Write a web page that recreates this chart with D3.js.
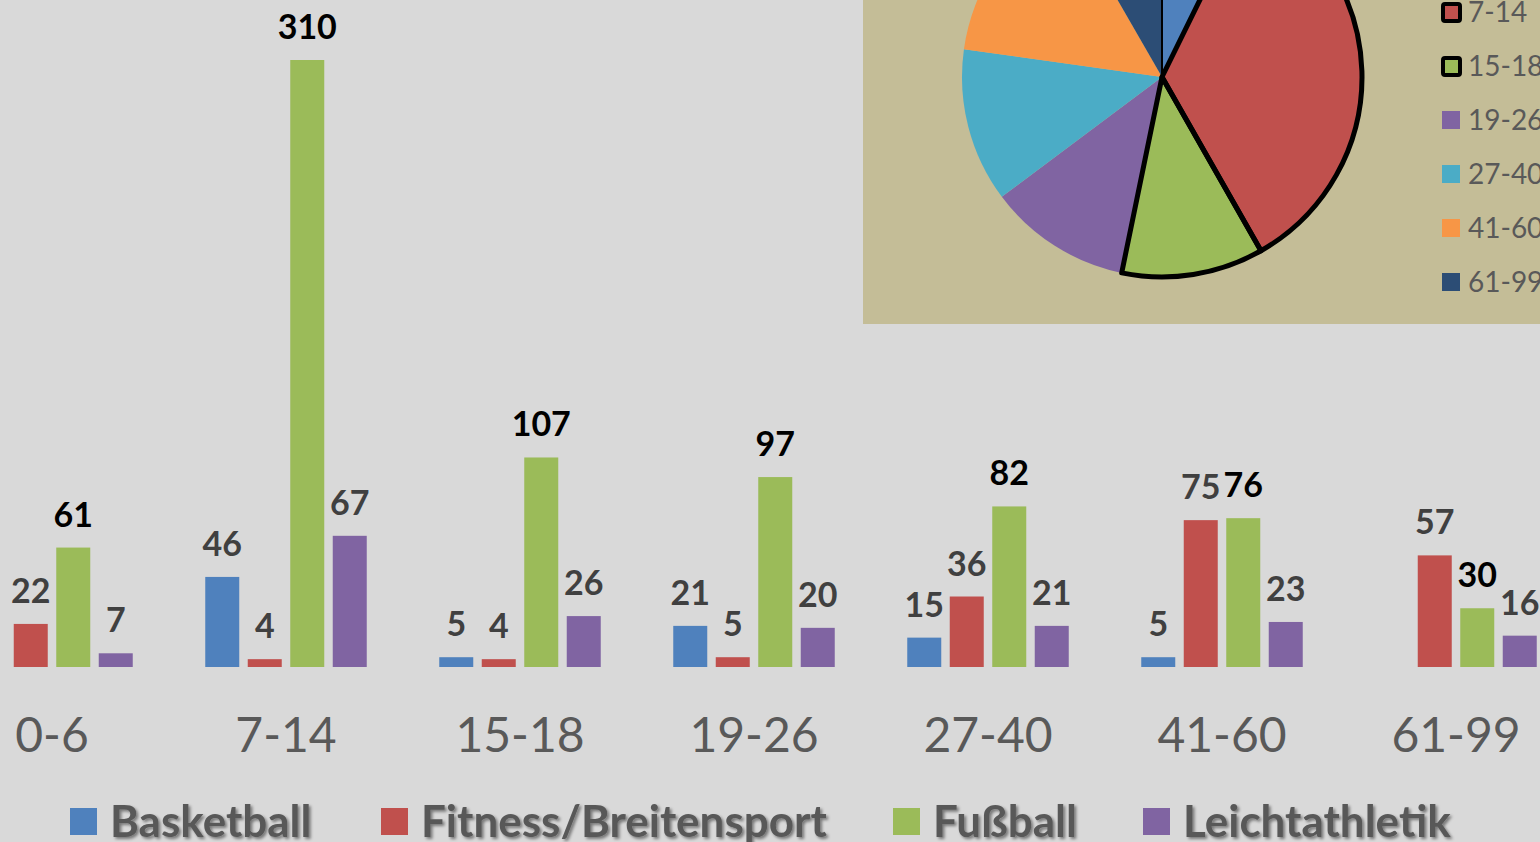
<!DOCTYPE html>
<html><head><meta charset="utf-8">
<script src="https://cdn.jsdelivr.net/npm/d3@7/dist/d3.min.js"></script>
<style>html,body{margin:0;padding:0;background:#d9d9d9;overflow:hidden}</style>
</head><body>
<svg id="c" width="1540" height="842"></svg>
<script>
const categories = ["0-6","7-14","15-18","19-26","27-40","41-60","61-99"];
const seriesNames = ["Basketball","Fitness/Breitensport","Fußball","Leichtathletik"];
const basketball = [0,46,5,21,15,5,0];
const fitness = [22,4,4,5,36,75,57];
const fussball = [61,310,107,97,82,76,30];
const leichtathletik = [7,67,26,20,21,23,16];
const seriesColors = ["#4f81bd","#c0504d","#9bbb59","#8064a2"];
const pieValues = [90,427,142,143,154,179,103];
const pieColors = ["#4f81bd","#c0504d","#9bbb59","#8064a2","#4bacc6","#f79646","#2c4d75"];

const seriesValues = [basketball, fitness, fussball, leichtathletik];
const svg = d3.select("#c");
svg.append("rect").attr("width",1540).attr("height",842).attr("fill","#d9d9d9");

const defs = svg.append("defs");
const f = defs.append("filter").attr("id","sh").attr("x","-10%").attr("y","-20%").attr("width","130%").attr("height","160%");
f.append("feDropShadow").attr("dx",2).attr("dy",2).attr("stdDeviation",1.5).attr("flood-color","#000").attr("flood-opacity",0.45);

// scales
const x0 = d3.scaleBand().domain(categories).range([-65,1573]).padding(0);
const x1 = d3.scaleBand().domain(seriesNames).range([36.25,197.75]).paddingInner(0.2).paddingOuter(0);
const y = d3.scaleLinear().domain([0,310]).range([667,60]);

const rows = [];
categories.forEach((c,i)=>seriesNames.forEach((s,j)=>rows.push({c,s,j,v:seriesValues[j][i]})));
const bars = rows.filter(d=>d.v>0);

svg.append("g").selectAll("rect").data(bars).join("rect")
  .attr("x",d=>x0(d.c)+x1(d.s)).attr("width",x1.bandwidth())
  .attr("y",d=>y(d.v)).attr("height",d=>y(0)-y(d.v))
  .attr("fill",d=>seriesColors[d.j]);

svg.append("g").selectAll("text").data(bars).join("text")
  .attr("x",d=>x0(d.c)+x1(d.s)+x1.bandwidth()/2)
  .attr("y",d=>y(d.v)-21)
  .attr("text-anchor","middle")
  .attr("font-family","Lato, 'Open Sans', sans-serif").attr("font-weight","bold").attr("font-size",34)
  .attr("fill",d=>d.j===2?"#000":"#404040")
  .text(d=>d.v);

// x axis labels
const xAxis = d3.axisBottom(x0).tickSize(0).tickPadding(0);
const gx = svg.append("g").attr("transform","translate(0,714)").call(xAxis);
gx.select(".domain").remove();
gx.selectAll("text").attr("font-family","Lato, 'Open Sans', sans-serif").attr("font-size",48)
  .attr("fill","#595959").attr("dy","0.8em");

// legend bottom
const legX = [70,381,893,1143];
const lg = svg.append("g");
seriesNames.forEach((s,j)=>{
  lg.append("rect").attr("x",legX[j]).attr("y",808).attr("width",27).attr("height",27).attr("fill",seriesColors[j]);
  lg.append("text").attr("x",legX[j]+40).attr("y",837)
    .attr("font-family","Lato, 'Open Sans', sans-serif").attr("font-weight","bold").attr("font-size",44)
    .attr("fill","#595959").attr("filter","url(#sh)").text(s);
});

// inset pie
const inset = svg.append("g");
inset.append("rect").attr("x",863).attr("y",0).attr("width",677).attr("height",324).attr("fill","#c4bd97");
defs.append("clipPath").attr("id","clipInset").append("rect").attr("x",863).attr("y",0).attr("width",677).attr("height",324);
const pg = inset.append("g").attr("clip-path","url(#clipInset)");
const pie = d3.pie().sort(null).value(d=>d)(pieValues);
const arc = d3.arc().innerRadius(0).outerRadius(200);
const pc = pg.append("g").attr("transform","translate(1162,77)");
const strokeW = [2,5,5,0,0,0,0];
pc.selectAll("path.s").data(pie).join("path").attr("class","s")
  .attr("d",arc).attr("fill",(d,i)=>pieColors[i]);
pc.selectAll("path.o").data(pie.filter((d,i)=>strokeW[i]>0)).join("path").attr("class","o")
  .attr("d",arc).attr("fill","none").attr("stroke","#000")
  .attr("stroke-width",d=>strokeW[d.index]).attr("stroke-linejoin","round");

// pie legend
const pl = pg.append("g");
categories.forEach((c,i)=>{
  const cy = -42 + i*54;
  const outlined = strokeW[i] > 3;
  pl.append("rect").attr("x",outlined?1443:1442).attr("y",cy-9+(outlined?1:0))
    .attr("width",outlined?17:18).attr("height",outlined?17:18)
    .attr("rx",outlined?2:0)
    .attr("fill",pieColors[i]).attr("stroke",outlined?"#000":"none").attr("stroke-width",4);
  pl.append("text").attr("x",1468).attr("y",cy+10)
    .attr("font-family","Lato, 'Open Sans', sans-serif").attr("font-size",28)
    .attr("fill","#595959").text(c);
});
</script>
</body></html>
